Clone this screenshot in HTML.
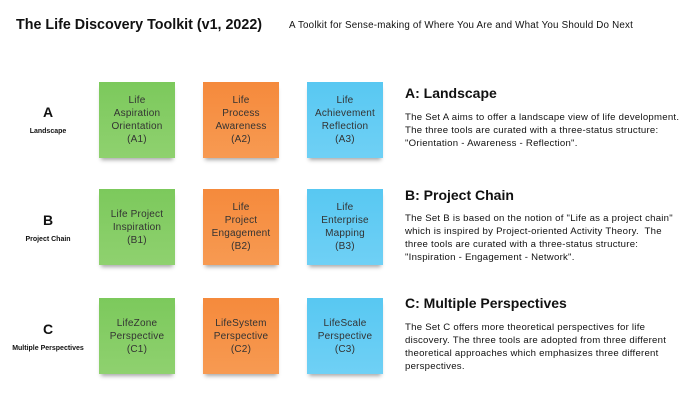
<!DOCTYPE html>
<html><head><style>
body{margin:0;width:700px;height:406px;background:#fff;font-family:"Liberation Sans",sans-serif;position:relative;overflow:hidden;color:#111}
.a{position:absolute}
.s{position:absolute;width:76px;height:76px;display:flex;align-items:center;justify-content:center;text-align:center;font-size:10px;letter-spacing:0.2px;line-height:13px;color:#333;box-shadow:0 4px 4px -2px rgba(0,0,0,.35)}
.g{background:linear-gradient(#7cc95c,#8fd16f)}
.o{background:linear-gradient(#f58a3c,#f79a52)}
.b{background:linear-gradient(#58c8f2,#6fd0f5)}
.L{position:absolute;width:90px;text-align:center;font-weight:bold}
.L b{display:block;font-size:14px}
.L span{font-size:7px}
h2{position:absolute;margin:0;font-size:14px;left:405px}
p{position:absolute;margin:0;left:405px;font-size:9.6px;letter-spacing:0.25px;line-height:13px;width:295px;white-space:nowrap}
</style></head><body>
<div class="a" style="left:16px;top:17px;font-size:14.3px;font-weight:bold">The Life Discovery Toolkit (v1, 2022)</div>
<div class="a" style="left:289px;top:20px;font-size:9.8px;letter-spacing:0.2px">A Toolkit for Sense-making of Where You Are and What You Should Do Next</div>

<div class="L" style="left:3px;top:104px"><b>A</b><span>Landscape</span></div>
<div class="L" style="left:3px;top:212px"><b>B</b><span>Project Chain</span></div>
<div class="L" style="left:3px;top:321px"><b>C</b><span>Multiple Perspectives</span></div>

<div class="s g" style="left:99px;top:82px">Life<br>Aspiration<br>Orientation<br>(A1)</div>
<div class="s o" style="left:203px;top:82px">Life<br>Process<br>Awareness<br>(A2)</div>
<div class="s b" style="left:307px;top:82px">Life<br>Achievement<br>Reflection<br>(A3)</div>

<div class="s g" style="left:99px;top:189px">Life Project<br>Inspiration<br>(B1)</div>
<div class="s o" style="left:203px;top:189px">Life<br>Project<br>Engagement<br>(B2)</div>
<div class="s b" style="left:307px;top:189px">Life<br>Enterprise<br>Mapping<br>(B3)</div>

<div class="s g" style="left:99px;top:298px">LifeZone<br>Perspective<br>(C1)</div>
<div class="s o" style="left:203px;top:298px">LifeSystem<br>Perspective<br>(C2)</div>
<div class="s b" style="left:307px;top:298px">LifeScale<br>Perspective<br>(C3)</div>

<h2 style="top:85px">A: Landscape</h2>
<p style="top:111px">The Set A aims to offer a landscape view of life development.<br>The three tools are curated with a three-status structure:<br>"Orientation - Awareness - Reflection".</p>
<h2 style="top:187px">B: Project Chain</h2>
<p style="top:212px">The Set B is based on the notion of "Life as a project chain"<br>which is inspired by Project-oriented Activity Theory.&nbsp; The<br>three tools are curated with a three-status structure:<br>"Inspiration - Engagement - Network".</p>
<h2 style="top:295px">C: Multiple Perspectives</h2>
<p style="top:321px">The Set C offers more theoretical perspectives for life<br>discovery. The three tools are adopted from three different<br>theoretical approaches which emphasizes three different<br>perspectives.</p>
</body></html>
